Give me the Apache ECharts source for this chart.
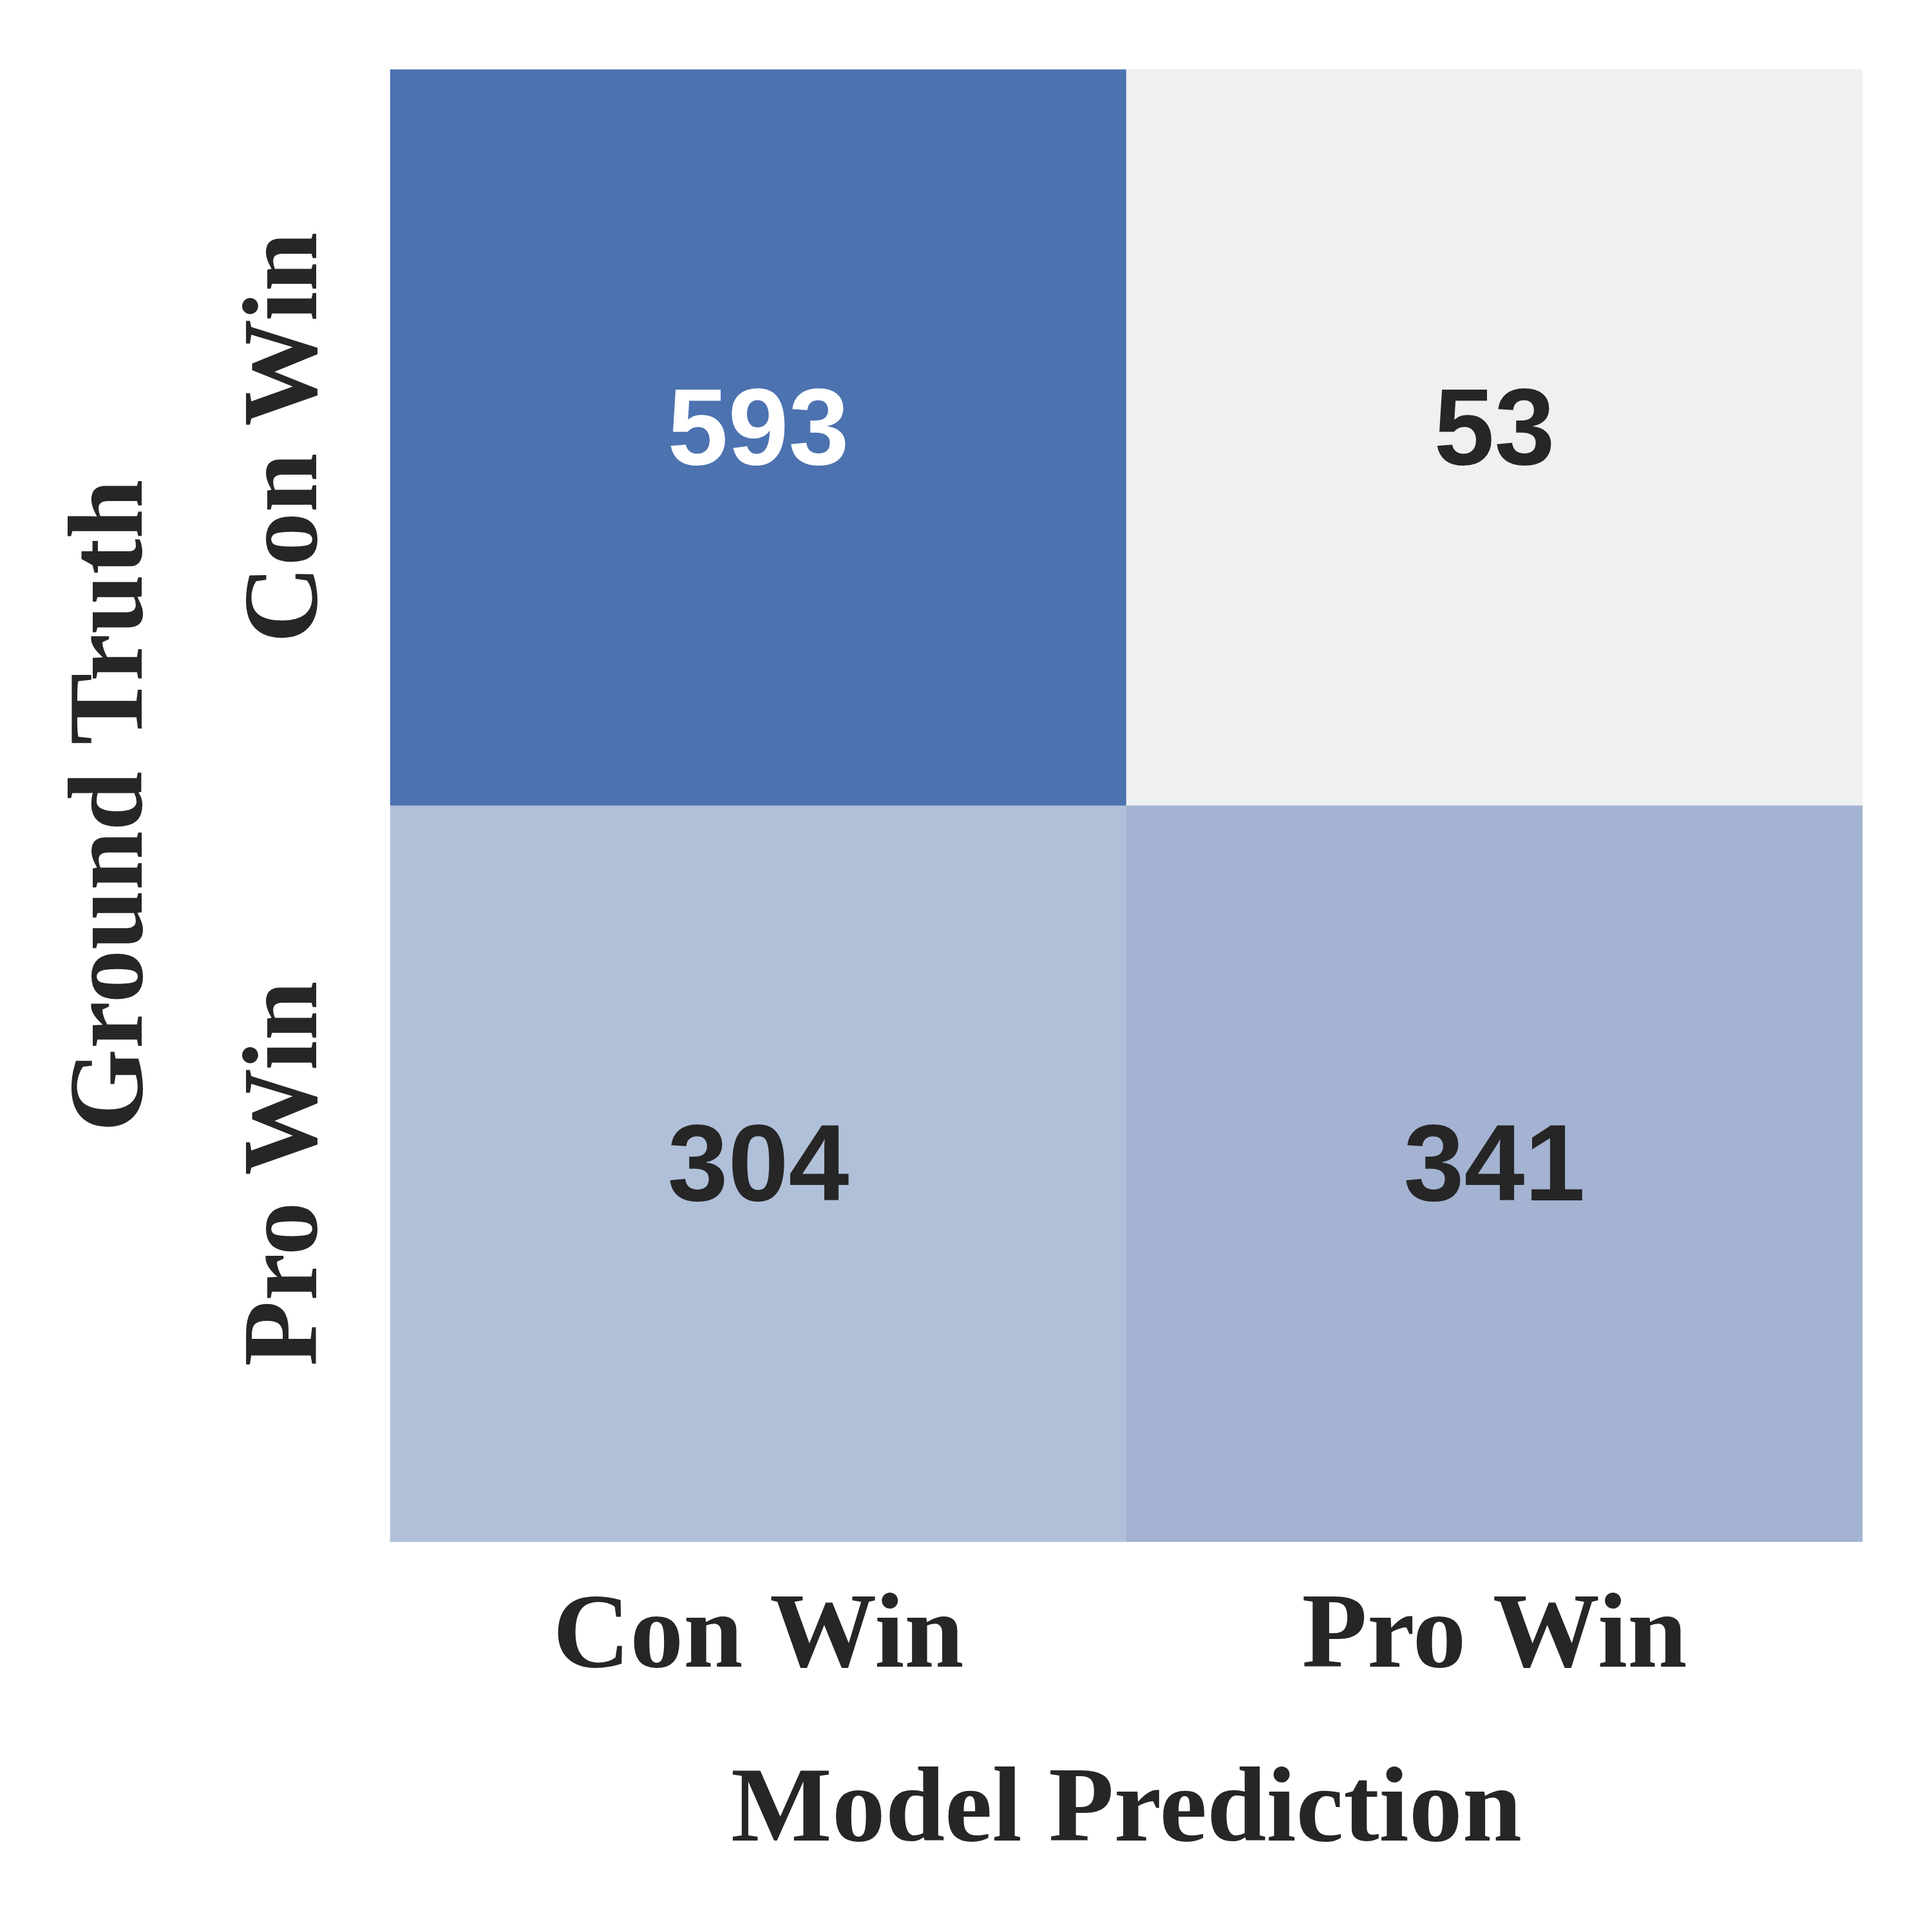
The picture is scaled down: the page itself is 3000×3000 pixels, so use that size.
<!DOCTYPE html>
<html>
<head>
<meta charset="utf-8">
<script src="https://cdn.jsdelivr.net/npm/echarts@6/dist/echarts.min.js"></script>
<style>
  html, body { margin: 0; padding: 0; background: #fff; }
  #chart { width: 3000px; height: 3000px; }
</style>
</head>
<body>
<div id="chart"></div>
<script>
// confusion matrix: rows = ground truth, columns = model prediction
const predLabels = ["Con Win", "Pro Win"];
const truthLabels = ["Con Win", "Pro Win"];
const conWinRow = [593, 53];
const proWinRow = [304, 341];
const counts = [conWinRow, proWinRow];

const cells = [];
counts.forEach((row, yi) => {
  row.forEach((v, xi) => cells.push([xi, yi, v]));
});
const allVals = cells.map((c) => c[2]);

const serif = '"Times New Roman", "Liberation Serif", serif';
const sans = 'Arial, "Liberation Sans", sans-serif';
const textColor = "#262626";

const chart = echarts.init(document.getElementById("chart"));
chart.setOption({
  backgroundColor: "#ffffff",
  animation: false,
  grid: {
    left: 606,
    top: 108,
    width: 2286,
    height: 2286,
  },
  xAxis: {
    type: "category",
    data: predLabels,
    position: "bottom",
    name: "Model Prediction",
    nameLocation: "middle",
    nameGap: 338,
    nameTextStyle: {
      fontFamily: serif,
      fontWeight: "bold",
      fontSize: 166,
      color: textColor,
    },
    axisLine: { show: false },
    axisTick: { show: false },
    splitLine: { show: false },
    axisLabel: {
      margin: 68,
      fontFamily: serif,
      fontWeight: "bold",
      fontSize: 166,
      color: textColor,
    },
  },
  yAxis: {
    type: "category",
    data: truthLabels,
    inverse: true,
    name: "Ground Truth",
    nameLocation: "middle",
    nameGap: 346,
    nameRotate: 90,
    nameTextStyle: {
      fontFamily: serif,
      fontWeight: "bold",
      fontSize: 166,
      color: textColor,
    },
    axisLine: { show: false },
    axisTick: { show: false },
    splitLine: { show: false },
    axisLabel: {
      rotate: 90,
      margin: 75,
      fontFamily: serif,
      fontWeight: "bold",
      fontSize: 166,
      color: textColor,
    },
  },
  visualMap: {
    show: false,
    min: Math.min(...allVals),
    max: Math.max(...allVals),
    inRange: {
      color: ["#eff0f2", "#c9d9e8", "#8a9ac2", "#4c72b0"],
    },
  },
  series: [
    {
      type: "heatmap",
      data: cells,
      itemStyle: { borderWidth: 0 },
      emphasis: { disabled: true },
      label: {
        show: true,
        offset: [0, -5],
        formatter: (p) => {
          const v = p.value[2];
          return v > 450 ? "{light|" + v + "}" : "{dark|" + v + "}";
        },
        rich: {
          light: {
            color: "#ffffff",
            fontFamily: sans,
            fontWeight: "bold",
            fontSize: 169,
          },
          dark: {
            color: textColor,
            fontFamily: sans,
            fontWeight: "bold",
            fontSize: 169,
          },
        },
      },
    },
  ],
});
</script>
</body>
</html>
